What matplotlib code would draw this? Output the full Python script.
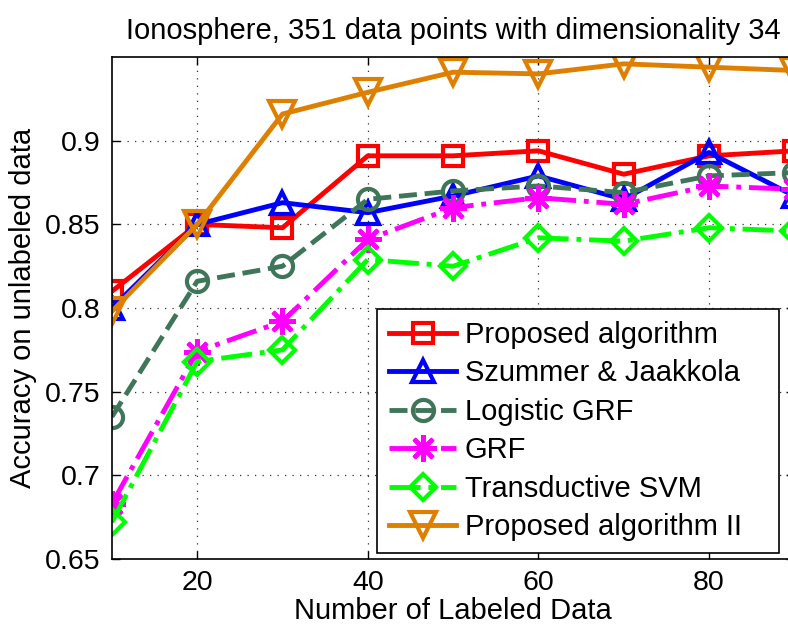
import matplotlib
matplotlib.use('Agg')
import matplotlib.pyplot as plt

plt.rcParams['font.family'] = ['Liberation Sans', 'DejaVu Sans']

# number of labeled points
n_labeled = [10, 20, 30, 40, 50, 60, 70, 80, 90]

# accuracy on unlabeled data
proposed = [0.810, 0.850, 0.848, 0.891, 0.891, 0.894, 0.880, 0.891, 0.894]
szummer = [0.800, 0.850, 0.863, 0.857, 0.867, 0.879, 0.865, 0.893, 0.867]
logistic_grf = [0.735, 0.816, 0.825, 0.865, 0.870, 0.873, 0.869, 0.879, 0.881]
grf = [0.683, 0.774, 0.792, 0.841, 0.860, 0.866, 0.862, 0.873, 0.871]
tsvm = [0.672, 0.768, 0.775, 0.829, 0.825, 0.842, 0.840, 0.848, 0.846]
proposed2 = [0.798, 0.850, 0.916, 0.929, 0.941, 0.940, 0.946, 0.944, 0.942]

labels = ['Proposed algorithm', 'Szummer & Jaakkola', 'Logistic GRF',
          'GRF', 'Transductive SVM', 'Proposed algorithm II']

fig = plt.figure(figsize=(7.88, 6.28), dpi=100)
ax = fig.add_axes([0.142, 0.110, 0.866, 0.799])

lw = 3.5
ms = 16
mew = 3.0
asterisk = (8, 2, 0)

ax.plot(n_labeled, proposed, color='red', ls='-', lw=lw, marker='s', ms=ms*0.9,
        mfc='none', mew=mew, label=labels[0])
ax.plot(n_labeled, szummer, color='blue', ls='-', lw=lw, marker='^', ms=ms,
        mfc='none', mew=mew, label=labels[1])
ax.plot(n_labeled, logistic_grf, color='#3f765a', ls='--', lw=lw, marker='o', ms=ms*0.95,
        mfc='none', mew=mew, label=labels[2])
ax.plot(n_labeled, grf, color='magenta', ls='-.', lw=lw, marker=asterisk, ms=ms*1.2,
        mfc='none', mew=mew, label=labels[3])
ax.plot(n_labeled, tsvm, color='#00ff00', ls='-.', lw=lw, marker='D', ms=ms*0.85,
        mfc='none', mew=mew, label=labels[4])
ax.plot(n_labeled, proposed2, color='#df7f00', ls='-', lw=lw, marker='v', ms=ms*1.15,
        mfc='none', mew=mew, label=labels[5])

ax.set_xlim(10, 90)
ax.set_ylim(0.65, 0.95)
ax.set_xticks([20, 40, 60, 80])
ax.set_yticks([0.65, 0.7, 0.75, 0.8, 0.85, 0.9])
ax.set_yticklabels(['0.65', '0.7', '0.75', '0.8', '0.85', '0.9'])
ax.tick_params(direction='in', top=True, right=True, length=6, width=1,
               labelsize=20.5, pad=8)
ax.grid(True, ls=(0, (1, 5)), color='#333333', lw=0.9)
for sp in ax.spines.values():
    sp.set_linewidth(1.2)

ax.set_xlabel('Number of Labeled Data', fontsize=21, labelpad=1)
ax.set_ylabel('Accuracy on unlabeled data', fontsize=21, labelpad=6)
ax.set_title('Ionosphere, 351 data points with dimensionality 34', fontsize=21, pad=13)

leg = ax.legend(loc='lower left', mode='expand',
                bbox_to_anchor=(0.389, 0.012, 0.589, 0.47), fontsize=21,
                fancybox=False, edgecolor='black', framealpha=1,
                handlelength=2.3, handletextpad=0.3, labelspacing=0.36,
                borderpad=0.4, borderaxespad=0)
leg.get_frame().set_linewidth(1.2)

fig.savefig('out.png', dpi=100)
